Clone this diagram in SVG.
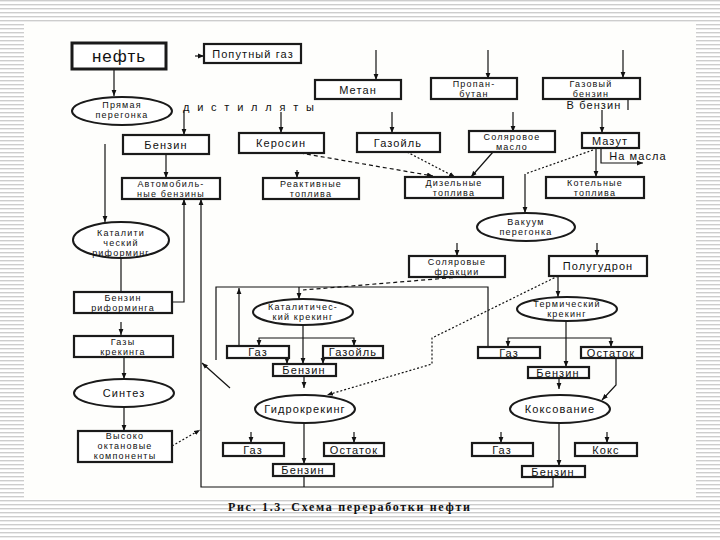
<svg xmlns="http://www.w3.org/2000/svg" width="720" height="540" viewBox="0 0 720 540">
<defs>
<pattern id="st" width="8" height="4" patternUnits="userSpaceOnUse"><rect width="8" height="4" fill="#ffffff"/><rect y="0" width="8" height="1.4" fill="#cdcdcd"/></pattern>
<marker id="a" viewBox="0 0 10 10" refX="10" refY="5" markerWidth="6" markerHeight="6" orient="auto-start-reverse" markerUnits="userSpaceOnUse"><path d="M0,1 L10,5 L0,9 z" fill="#111"/></marker>
</defs>
<style>
.b{fill:#fff;stroke:#1a1a1a;stroke-width:2.2}
.e{fill:#fff;stroke:#1a1a1a;stroke-width:2}
.t{font-family:"Liberation Sans",Arial,sans-serif;font-size:11px;letter-spacing:1.1px;fill:#111;text-anchor:middle}
.s{font-size:9px;letter-spacing:1.2px}
.c{fill:none;stroke:#111;stroke-width:1.2}
.ar{marker-end:url(#a)}
.d{stroke-dasharray:4,3}
.p{stroke-dasharray:2,2}
</style>
<rect width="720" height="540" fill="url(#st)"/>
<rect x="24" y="22" width="672" height="477" fill="#fefefc"/>

<g id="connectors">
<path class="c ar" d="M114,69 V96"/>
<path class="c ar" d="M195,56 H204"/>
<path class="c ar" d="M376,50 V80"/>
<path class="c ar" d="M488,50 V79"/>
<path class="c ar" d="M623,50 V78"/>
<path class="c" d="M628,99 V110"/>
<path class="c ar" d="M184,111 V135"/>
<path class="c ar" d="M281,112 V133"/>
<path class="c ar" d="M392,112 V133"/>
<path class="c ar" d="M513,112 V132"/>
<path class="c ar" d="M602,110 V133"/>
<path class="c ar" d="M166,154 V178"/>
<path class="c ar" d="M297,170 V178"/>
<path class="c ar d" d="M300,153 L433,176"/>
<path class="c ar p" d="M407,152 L455,177"/>
<path class="c ar" d="M493,152 L471,177"/>
<path class="c ar" d="M596,148 V177"/>
<path class="c ar" d="M601,148 V163 H643"/>
<path class="c p" d="M593,150 L525,174"/>
<path class="c ar" d="M525,174 V213"/>
<path class="c ar" d="M105,144 V222"/>
<path class="c" d="M121,258 V292"/>
<path class="c ar" d="M173,302 H184 V199"/>
<path class="c ar" d="M121,322 V335"/>
<path class="c ar" d="M124,357 V379"/>
<path class="c ar" d="M124,408 V431"/>
<path class="c ar p" d="M172,446 L200,430"/>
<path class="c ar" d="M553,477 V487 H201 V199"/>
<path class="c" d="M304,476 V487"/>
<path class="c ar" d="M230,388 L202,363"/>
<path class="c" d="M488,347 V287 H216 V360"/>
<path class="c ar" d="M239,346 V288"/>
<path class="c ar" d="M299,287 V299"/>
<path class="c d" d="M460,277 L303,290"/>
<path class="c ar" d="M303,325 V364"/>
<path class="c ar" d="M303,338 H259 V346"/>
<path class="c ar" d="M303,338 H354 V346"/>
<path class="c ar" d="M287,358 V364"/>
<path class="c ar" d="M323,358 V364"/>
<path class="c ar" d="M304,376 V388"/>
<path class="c ar p" d="M558,276 L432,338 V364 L327,395"/>
<path class="c ar" d="M251,432 V443"/>
<path class="c ar" d="M354,432 V443"/>
<path class="c ar" d="M304,423 V464"/>
<path class="c ar" d="M558,276 V297"/>
<path class="c ar" d="M566,321 V367"/>
<path class="c ar" d="M566,338 H508 V347"/>
<path class="c ar" d="M566,338 H611 V347"/>
<path class="c ar" d="M559,378 V389"/>
<path class="c ar" d="M616,358 V385 L602,400"/>
<path class="c ar" d="M501,432 V443"/>
<path class="c ar" d="M607,432 V443"/>
<path class="c ar" d="M559,423 V466"/>
<path class="c ar" d="M457,243 V256"/>
<path class="c ar" d="M597,243 V256"/>
</g>

<g id="neft"><rect class="b" x="72" y="43" width="94" height="26" style="stroke-width:3"/><text class="t" x="119" y="62" style="font-size:17px;letter-spacing:1px">нефть</text></g>
<g id="poputny"><rect class="b" x="204" y="44" width="97" height="19"/><text class="t" x="253" y="58">Попутный газ</text></g>
<g id="metan"><rect class="b" x="315" y="80" width="86" height="19"/><text class="t" x="358" y="94">Метан</text></g>
<g id="propan"><rect class="b" x="431" y="78" width="86" height="21"/><text class="t s" x="474" y="86.5">Пропан-</text><text class="t s" x="474" y="96.7">бутан</text></g>
<g id="gazbenzin"><rect class="b" x="543" y="78" width="97" height="21"/><text class="t s" x="591" y="86.5">Газовый</text><text class="t s" x="591" y="96.7">бензин</text></g>
<text class="t" x="594" y="109">В бензин</text>
<g id="pryamaya"><ellipse class="e" cx="122" cy="111" rx="50" ry="14"/><text class="t s" x="122" y="108">Прямая</text><text class="t s" x="122" y="118.2">перегонка</text></g>
<text class="t" x="249" y="111" textLength="132" lengthAdjust="spacing">д и с т и л л я т ы</text>
<g id="benzin1"><rect class="b" x="123" y="135" width="86" height="19"/><text class="t" x="166" y="149">Бензин</text></g>
<g id="kerosin"><rect class="b" x="239" y="133" width="85" height="20"/><text class="t" x="281" y="147">Керосин</text></g>
<g id="gazoil1"><rect class="b" x="357" y="133" width="83" height="19"/><text class="t" x="398" y="147">Газойль</text></g>
<g id="solmaslo"><rect class="b" x="469" y="131" width="86" height="21"/><text class="t s" x="512" y="139.5">Соляровое</text><text class="t s" x="512" y="149.7">масло</text></g>
<g id="mazut"><rect class="b" x="582" y="133" width="57" height="15"/><text class="t" x="610" y="145">Мазут</text></g>
<text class="t" x="638" y="160">На масла</text>
<g id="avto"><rect class="b" x="122" y="178" width="98" height="21"/><text class="t s" x="171" y="186.5">Автомобиль-</text><text class="t s" x="171" y="196.7">ные бензины</text></g>
<g id="reakt"><rect class="b" x="263" y="178" width="96" height="21"/><text class="t s" x="311" y="186.5">Реактивные</text><text class="t s" x="311" y="196.7">топлива</text></g>
<g id="dizel"><rect class="b" x="405" y="177" width="98" height="21"/><text class="t s" x="454" y="185.5">Дизельные</text><text class="t s" x="454" y="195.7">топлива</text></g>
<g id="kotel"><rect class="b" x="546" y="177" width="98" height="21"/><text class="t s" x="595" y="185.5">Котельные</text><text class="t s" x="595" y="195.7">топлива</text></g>
<g id="rif"><ellipse class="e" cx="121" cy="240" rx="48" ry="18"/><text class="t s" x="121" y="236">Каталити</text><text class="t s" x="121" y="246.2">ческий</text><text class="t s" x="121" y="256.4">риформинг</text></g>
<g id="vakuum"><ellipse class="e" cx="526" cy="227" rx="49" ry="14"/><text class="t s" x="526" y="224.5">Вакуум</text><text class="t s" x="526" y="234.7">перегонка</text></g>
<g id="solfrak"><rect class="b" x="409" y="256" width="96" height="21"/><text class="t s" x="457" y="264.5">Соляровые</text><text class="t s" x="457" y="274.7">фракции</text></g>
<g id="polugudron"><rect class="b" x="549" y="256" width="98" height="20"/><text class="t" x="598" y="270">Полугудрон</text></g>
<g id="benzrif"><rect class="b" x="74" y="292" width="98" height="21"/><text class="t s" x="123" y="300.5">Бензин</text><text class="t s" x="123" y="310.7">риформинга</text></g>
<g id="gazykreking"><rect class="b" x="74" y="336" width="99" height="21"/><text class="t s" x="123" y="344.5">Газы</text><text class="t s" x="123" y="354.7">крекинга</text></g>
<g id="sintez"><ellipse class="e" cx="124" cy="393" rx="50" ry="14"/><text class="t" x="124" y="397">Синтез</text></g>
<g id="vysoko"><rect class="b" x="78" y="431" width="94" height="31"/><text class="t s" x="125" y="439">Высоко</text><text class="t s" x="125" y="449.2">октановые</text><text class="t s" x="125" y="459.4">компоненты</text></g>
<g id="katkreking"><ellipse class="e" cx="303" cy="312" rx="50" ry="13"/><text class="t s" x="303" y="310">Каталитичес-</text><text class="t s" x="303" y="320.2">кий крекинг</text></g>
<g id="gaz_cc"><rect class="b" x="227" y="346" width="62" height="12"/><text class="t" x="258" y="356">Газ</text></g>
<g id="gazoil_cc"><rect class="b" x="323" y="346" width="60" height="12"/><text class="t" x="353" y="356">Газойль</text></g>
<g id="benzin_cc"><rect class="b" x="273" y="364" width="63" height="12"/><text class="t" x="304" y="374">Бензин</text></g>
<g id="termkreking"><ellipse class="e" cx="567" cy="309" rx="50" ry="12"/><text class="t s" x="567" y="306.5">Термический</text><text class="t s" x="567" y="316.7">крекинг</text></g>
<g id="gaz_tc"><rect class="b" x="478" y="347" width="62" height="11"/><text class="t" x="509" y="356.5">Газ</text></g>
<g id="ostatok_tc"><rect class="b" x="581" y="347" width="61" height="11"/><text class="t" x="611" y="356.5">Остаток</text></g>
<g id="benzin_tc"><rect class="b" x="528" y="367" width="61" height="11"/><text class="t" x="558" y="376.5">Бензин</text></g>
<g id="gidro"><ellipse class="e" cx="305" cy="409" rx="50" ry="14"/><text class="t" x="305" y="413">Гидрокрекинг</text></g>
<g id="gaz_hc"><rect class="b" x="223" y="443" width="61" height="13"/><text class="t" x="253" y="453.5">Газ</text></g>
<g id="ostatok_hc"><rect class="b" x="324" y="443" width="60" height="13"/><text class="t" x="354" y="453.5">Остаток</text></g>
<g id="benzin_hc"><rect class="b" x="273" y="464" width="61" height="12"/><text class="t" x="303" y="474">Бензин</text></g>
<g id="koksovanie"><ellipse class="e" cx="560" cy="409" rx="50" ry="14"/><text class="t" x="560" y="413">Коксование</text></g>
<g id="gaz_k"><rect class="b" x="472" y="443" width="61" height="13"/><text class="t" x="502" y="453.5">Газ</text></g>
<g id="koks"><rect class="b" x="575" y="443" width="62" height="13"/><text class="t" x="606" y="453.5">Кокс</text></g>
<g id="benzin_k"><rect class="b" x="522" y="466" width="63" height="11"/><text class="t" x="553" y="475.5">Бензин</text></g>

<text x="349" y="511" text-anchor="middle" font-family="'Liberation Serif','Times New Roman',serif" font-size="12" font-weight="bold" fill="#111" textLength="242" lengthAdjust="spacing">Рис. 1.3. Схема переработки нефти</text>
</svg>
